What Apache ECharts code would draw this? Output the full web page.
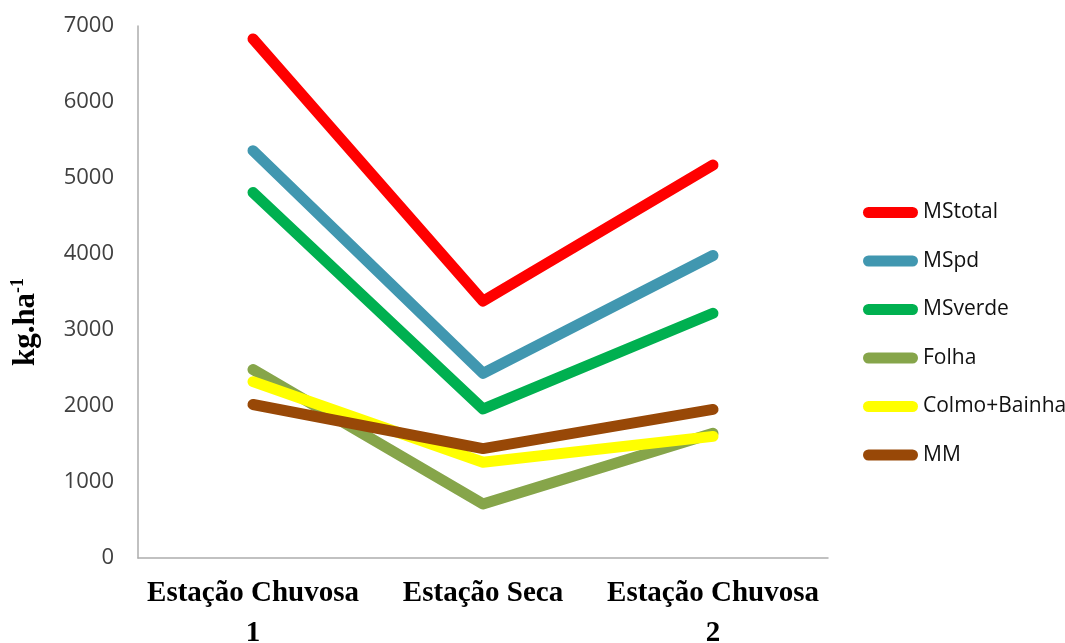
<!DOCTYPE html>
<html>
<head>
<meta charset="utf-8">
<script src="https://cdn.jsdelivr.net/npm/echarts@6/dist/echarts.min.js"></script>
<style>html,body{margin:0;padding:0;background:#fff}#c{width:1065px;height:643px}</style>
</head>
<body>
<div id="c"></div>
<script>
const categories = ['Estação Chuvosa\n1', 'Estação Seca', 'Estação Chuvosa\n2'];
const seriesNames = ['MStotal', 'MSpd', 'MSverde', 'Folha', 'Colmo+Bainha', 'MM'];
const MStotal = [6830, 3380, 5170];
const MSpd = [5360, 2430, 3980];
const MSverde = [4810, 1960, 3220];
const Folha = [2480, 710, 1640];
const ColmoBainha = [2320, 1260, 1600];
const MM = [2020, 1440, 1955];
const yTicks = { min: 0, max: 7000, interval: 1000 };
const colors = ['#FF0000', '#4197B0', '#00B050', '#86A54A', '#FFFF00', '#984807'];

const values = [MStotal, MSpd, MSverde, Folha, ColmoBainha, MM];
const chart = echarts.init(document.getElementById('c'), null, { renderer: 'canvas' });
const legendIcon = 'path://M5.5,0 L49.5,0 A5.5,5.5 0 0 1 49.5,11 L5.5,11 A5.5,5.5 0 0 1 5.5,0 Z';

chart.setOption({
  animation: false,
  backgroundColor: '#fff',
  grid: { left: 138, top: 26, right: 237, bottom: 85, containLabel: false, outerBoundsMode: 'none' },
  legend: {
    orient: 'vertical',
    left: 858,
    top: 196,
    itemWidth: 55,
    itemHeight: 11,
    itemGap: 25.5,
    icon: legendIcon,
    data: seriesNames,
    textStyle: { fontFamily: 'Open Sans', fontSize: 21, color: '#111', lineHeight: 23 }
  },
  xAxis: {
    type: 'category',
    data: categories,
    boundaryGap: true,
    axisLine: { show: true, lineStyle: { color: '#ADADAD', width: 1.5 } },
    axisTick: { show: false },
    axisLabel: {
      interval: 0,
      margin: 16,
      fontFamily: 'Liberation Serif',
      fontWeight: 'bold',
      fontSize: 29,
      lineHeight: 40,
      color: '#000'
    },
    splitLine: { show: false }
  },
  yAxis: {
    type: 'value',
    min: yTicks.min,
    max: yTicks.max,
    interval: yTicks.interval,
    axisLine: { show: true, lineStyle: { color: '#ADADAD', width: 1.5 } },
    axisTick: { show: false },
    splitLine: { show: false },
    axisLabel: {
      margin: 24,
      fontFamily: 'Open Sans',
      fontSize: 22,
      color: '#404040',
      formatter: function (v) { return String(v); }
    }
  },
  graphic: [{
    type: 'text',
    x: 26,
    y: 322,
    rotation: Math.PI / 2,
    style: {
      text: '{a|kg.ha}{b|-1}',
      align: 'center',
      verticalAlign: 'middle',
      rich: {
        a: { fontFamily: 'Liberation Serif', fontWeight: 'bold', fontSize: 31, lineHeight: 34, fill: '#000' },
        b: { fontFamily: 'Liberation Serif', fontWeight: 'bold', fontSize: 18, lineHeight: 34, verticalAlign: 'top', fill: '#000', padding: [0, 0, 12, 0] }
      }
    }
  }],
  series: seriesNames.map((name, i) => ({
    name: name,
    type: 'line',
    data: values[i],
    color: colors[i],
    showSymbol: false,
    symbol: 'none',
    lineStyle: { width: 11, color: colors[i], cap: 'round', join: 'round' }
  }))
});
</script>
</body>
</html>
